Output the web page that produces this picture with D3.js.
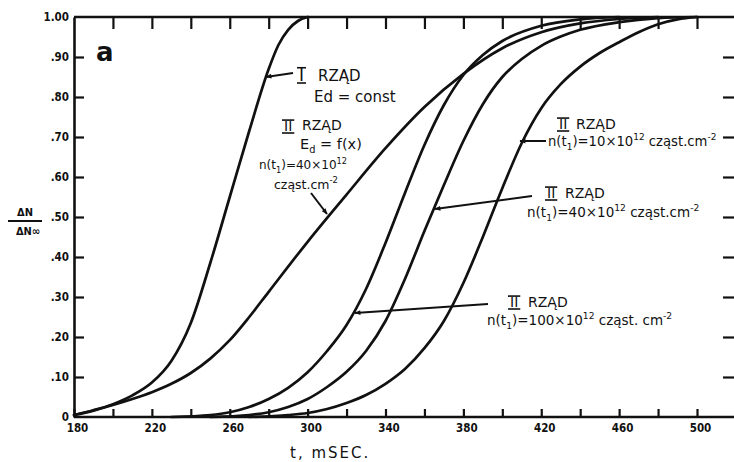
<!DOCTYPE html>
<html><head><meta charset="utf-8">
<script src="https://cdn.jsdelivr.net/npm/d3@7"></script>
<style>
html,body{margin:0;padding:0;background:#fff;}
svg{display:block;}
</style></head>
<body>
<svg id="chart" width="734" height="462"></svg>
<script>
// Axis ticks
const xTickValues = d3.range(180, 521, 20);
const xTickLabels = ["180", "220", "260", "300", "340", "380", "420", "460", "500"];
const yTickValues = [0, 0.1, 0.2, 0.3, 0.4, 0.5, 0.6, 0.7, 0.8, 0.9, 1.0];
const yTickLabels = ["0", ".10", ".20", ".30", ".40", ".50", ".60", ".70", ".80", ".90", "1.00"];

// I RZĄD, Ed = const
const tOrder1 = [180, 190, 200, 210, 220, 230, 240, 250, 260, 270, 280, 285, 290, 295, 300];
const vOrder1 = [0.005, 0.016, 0.032, 0.054, 0.086, 0.14, 0.235, 0.385, 0.55, 0.715, 0.87, 0.93, 0.968, 0.99, 1.0];

// II RZĄD, Ed = f(x), n(t1) = 40e12
const tOrder2Ef = [180, 190, 200, 210, 220, 230, 240, 250, 260, 270, 280, 300, 320, 340, 360, 380, 400, 420, 440, 460, 480];
const vOrder2Ef = [0.005, 0.017, 0.03, 0.045, 0.062, 0.083, 0.11, 0.146, 0.192, 0.25, 0.313, 0.438, 0.556, 0.672, 0.775, 0.858, 0.922, 0.962, 0.984, 0.995, 1.0];

// II RZĄD, n(t1) = 100e12
const tN100 = [230, 250, 260, 270, 280, 290, 300, 310, 320, 330, 340, 350, 360, 370, 380, 390, 400, 420, 440, 460];
const vN100 = [0, 0.005, 0.012, 0.025, 0.045, 0.073, 0.112, 0.165, 0.23, 0.32, 0.435, 0.56, 0.68, 0.78, 0.855, 0.905, 0.94, 0.978, 0.994, 1.0];

// II RZĄD, n(t1) = 40e12
const tN40 = [250, 270, 280, 290, 300, 310, 320, 330, 340, 350, 360, 370, 380, 390, 400, 410, 420, 430, 440, 460, 480, 500];
const vN40 = [0, 0.005, 0.012, 0.025, 0.045, 0.075, 0.113, 0.165, 0.24, 0.345, 0.465, 0.58, 0.69, 0.782, 0.85, 0.895, 0.928, 0.951, 0.968, 0.987, 0.997, 1.0];

// II RZĄD, n(t1) = 10e12
const tN10 = [270, 290, 300, 310, 320, 330, 340, 350, 360, 370, 380, 390, 400, 410, 420, 430, 440, 450, 460, 470, 480, 490, 500];
const vN10 = [0, 0.005, 0.01, 0.02, 0.035, 0.055, 0.083, 0.12, 0.172, 0.24, 0.335, 0.45, 0.572, 0.685, 0.772, 0.832, 0.876, 0.91, 0.937, 0.962, 0.982, 0.994, 1.0];

const seriesList = [
  [tOrder1, vOrder1],
  [tOrder2Ef, vOrder2Ef],
  [tN100, vN100],
  [tN40, vN40],
  [tN10, vN10]
];

const svg = d3.select("#chart");
const W = 734, H = 462;
svg.append("rect").attr("width", W).attr("height", H).attr("fill", "#fff");

const x = d3.scaleLinear().domain([180, 500]).range([74, 697]);
const y = d3.scaleLinear().domain([0, 1]).range([417, 17]);
const xRight = 737;

const ink = "#111";
const axisFont = "'DejaVu Sans Condensed', 'DejaVu Sans', sans-serif";
const handFont = "'DejaVu Sans', sans-serif";

function styleAxis(g) {
  g.selectAll("path.domain").attr("stroke", ink).attr("stroke-width", 2.6);
  g.selectAll(".tick line").attr("stroke", ink).attr("stroke-width", 2.2);
  g.selectAll(".tick text").attr("fill", ink).attr("font-family", axisFont)
    .attr("font-weight", "bold").attr("font-size", 11.5);
}

// Bottom axis: minor ticks every 20 ms, labels every 40 ms
const gBottom = svg.append("g").attr("transform", `translate(0,${y(0)})`)
  .call(d3.axisBottom(x).tickValues(xTickValues).tickSize(-8).tickSizeOuter(0).tickPadding(7)
    .tickFormat(d => { const i = xTickLabels.indexOf(String(d)); return i >= 0 ? xTickLabels[i] : ""; }));
gBottom.select("path.domain").attr("d", `M${x(180)},0H${xRight}`);
gBottom.selectAll(".tick text").filter(function () { return this.textContent === ""; }).remove();
gBottom.selectAll(".tick text").attr("dx", 3);
styleAxis(gBottom);

// Top frame with downward ticks
const gTop = svg.append("g").attr("transform", `translate(0,${y(1)})`)
  .call(d3.axisTop(x).tickValues(xTickValues.filter(d => d > 180)).tickSize(-12).tickSizeOuter(0).tickFormat(""));
gTop.select("path.domain").attr("d", `M${x(180)},0H${xRight}`);
gTop.selectAll(".tick text").remove();
styleAxis(gTop);

// Left axis
const gLeft = svg.append("g").attr("transform", `translate(${x(180)},0)`)
  .call(d3.axisLeft(y).tickValues(yTickValues).tickSize(-10).tickSizeOuter(0).tickPadding(5)
    .tickFormat((d, i) => yTickLabels[i]));
gLeft.selectAll(".tick").filter(d => d === 0 || d === 1).select("line").remove();
styleAxis(gLeft);

// Right frame ticks
const gRight = svg.append("g").attr("transform", `translate(${xRight},0)`)
  .call(d3.axisRight(y).tickValues(yTickValues.filter(d => d > 0 && d < 1)).tickSize(-14).tickSizeOuter(0).tickFormat(""));
gRight.selectAll(".tick text").remove();
styleAxis(gRight);

// Curves
const line = d3.line().x(d => x(d[0])).y(d => y(d[1])).curve(d3.curveMonotoneX);
seriesList.forEach(([ts, vs]) => {
  svg.append("path").datum(ts.map((t, i) => [t, vs[i]]))
    .attr("d", line).attr("fill", "none").attr("stroke", ink)
    .attr("stroke-width", 2.7).attr("stroke-linejoin", "round").attr("stroke-linecap", "round");
});

// Arrow marker
svg.append("defs").append("marker").attr("id", "arr").attr("viewBox", "0 0 10 10")
  .attr("refX", 9).attr("refY", 5).attr("markerWidth", 7).attr("markerHeight", 6)
  .attr("orient", "auto").attr("markerUnits", "userSpaceOnUse")
  .append("path").attr("d", "M0,1L10,5L0,9Z").attr("fill", ink);

function arrow(x1, y1, x2, y2) {
  svg.append("line").attr("x1", x1).attr("y1", y1).attr("x2", x2).attr("y2", y2)
    .attr("stroke", ink).attr("stroke-width", 2).attr("marker-end", "url(#arr)");
}

// Text with sub/superscripts
function rich(xp, yp, parts, size) {
  const t = svg.append("text").attr("x", xp).attr("y", yp).attr("font-family", handFont)
    .attr("font-size", size).attr("fill", ink);
  let pending = 0;
  parts.forEach(p => {
    if (typeof p === "string") {
      t.append("tspan").attr("dy", pending).text(p);
      pending = 0;
    } else {
      const shift = p.sup ? -0.45 * size : 0.3 * size;
      t.append("tspan").attr("dy", pending + shift).attr("font-size", size * 0.68).text(p.t);
      pending = -shift;
    }
  });
  return t;
}

// Roman numeral with bars above and below
function roman(xp, yp, numeral, size) {
  const t = svg.append("text").attr("x", xp).attr("y", yp).attr("font-family", handFont)
    .attr("font-size", size).attr("fill", ink).text(numeral);
  const w = t.node().getComputedTextLength();
  [yp - size * 0.78, yp + 2].forEach(yy => {
    svg.append("line").attr("x1", xp - 2).attr("x2", xp + w + 2).attr("y1", yy).attr("y2", yy)
      .attr("stroke", ink).attr("stroke-width", 1.6);
  });
}

// Panel letter
svg.append("text").attr("x", 96).attr("y", 61).attr("font-family", "'DejaVu Sans', sans-serif")
  .attr("font-weight", "bold").attr("font-size", 26).attr("fill", ink).text("a");

// I RZĄD, Ed = const
roman(299, 81, "I", 17);
rich(318, 81, ["RZĄD"], 15);
rich(314, 102, ["Ed = const"], 15);
arrow(293, 73, 266, 77);

// II RZĄD, Ed = f(x)
roman(284, 131, "II", 14);
rich(302, 130, ["RZĄD"], 14);
rich(300, 149, ["E", {t: "d", sub: true}, " = f(x)"], 14.5);
rich(259, 169, ["n(t", {t: "1", sub: true}, ")=40×10", {t: "12", sup: true}], 12);
rich(274, 189, ["cząst.cm", {t: "-2", sup: true}], 12.5);
arrow(311, 193, 327, 214);

// II RZĄD, n = 10e12
roman(559, 129, "II", 14);
rich(576, 129, ["RZĄD"], 14);
rich(548, 146, ["n(t", {t: "1", sub: true}, ")=10×10", {t: "12", sup: true}, " cząst.cm", {t: "-2", sup: true}], 13.2);
arrow(546, 141, 520, 141);

// II RZĄD, n = 40e12
roman(547, 198, "II", 14);
rich(565, 198, ["RZĄD"], 14);
rich(527, 217, ["n(t", {t: "1", sub: true}, ")=40×10", {t: "12", sup: true}, "  cząst.cm", {t: "-2", sup: true}], 13.5);
arrow(532, 196, 435, 209);

// II RZĄD, n = 100e12
roman(510, 307, "II", 14);
rich(528, 307, ["RZĄD"], 14);
rich(487, 325, ["n(t", {t: "1", sub: true}, ")=100×10", {t: "12", sup: true}, " cząst. cm", {t: "-2", sup: true}], 13.5);
arrow(488, 304, 355, 313);

// Axis titles
svg.append("text").attr("x", 25).attr("y", 216).attr("text-anchor", "middle")
  .attr("font-family", axisFont).attr("font-weight", "bold").attr("font-size", 11).attr("fill", ink).text("ΔN");
svg.append("line").attr("x1", 8).attr("x2", 42).attr("y1", 221).attr("y2", 221)
  .attr("stroke", ink).attr("stroke-width", 1.8);
svg.append("text").attr("x", 28).attr("y", 235).attr("text-anchor", "middle")
  .attr("font-family", axisFont).attr("font-weight", "bold").attr("font-size", 11).attr("fill", ink).text("ΔN∞");
svg.append("text").attr("x", 290).attr("y", 458)
  .attr("font-family", handFont).attr("font-size", 15).attr("letter-spacing", 2).attr("fill", ink).text("t, mSEC.");
</script>
</body></html>
